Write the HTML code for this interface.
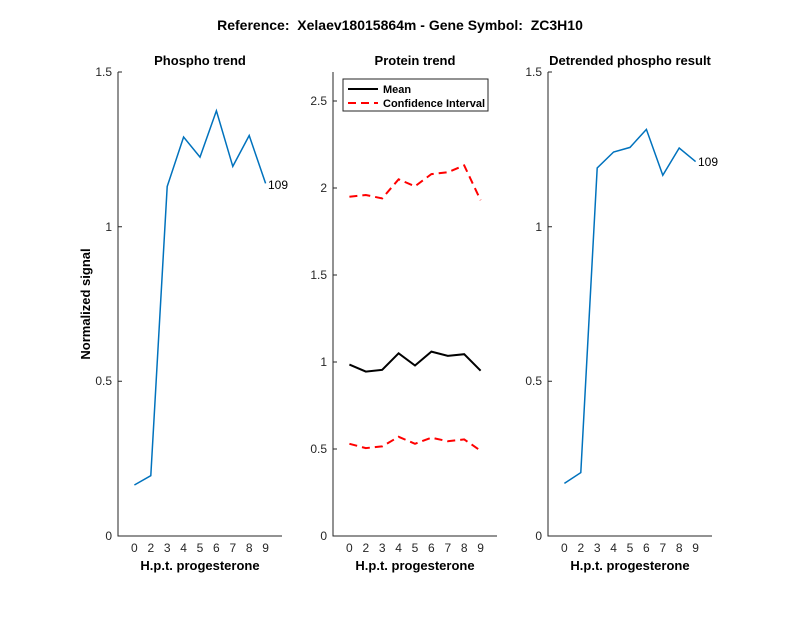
<!DOCTYPE html>
<html><head><meta charset="utf-8"><style>body{margin:0;background:#fff}svg{display:block}text{font-family:"Liberation Sans",sans-serif}</style></head><body>
<svg width="800" height="618" viewBox="0 0 800 618" xmlns="http://www.w3.org/2000/svg">
<rect width="800" height="618" fill="#fff"/>
<text x="400" y="30" text-anchor="middle" font-size="14" font-weight="bold" style="white-space:pre" xml:space="preserve">Reference:  Xelaev18015864m - Gene Symbol:  ZC3H10</text>
<g font-size="12" fill="#262626" stroke="none">
<text x="200" y="65" text-anchor="middle" font-size="13" font-weight="bold" fill="#000">Phospho trend</text>
<path d="M118,72V536H282" stroke="#262626" fill="none"/>
<path d="M118,536h4M118,381.3h4M118,226.7h4M118,72h4" stroke="#262626"/>
<text x="112" y="540" text-anchor="end">0</text><text x="112" y="385" text-anchor="end">0.5</text><text x="112" y="231" text-anchor="end">1</text><text x="112" y="76" text-anchor="end">1.5</text>
<text transform="translate(90,304) rotate(-90)" text-anchor="middle" font-size="13" font-weight="bold" fill="#000">Normalized signal</text>
<g text-anchor="middle"><text x="134.4" y="552">0</text><text x="150.8" y="552">2</text><text x="167.2" y="552">3</text><text x="183.6" y="552">4</text><text x="200" y="552">5</text><text x="216.4" y="552">6</text><text x="232.8" y="552">7</text><text x="249.2" y="552">8</text><text x="265.6" y="552">9</text></g>
<text x="200" y="570" text-anchor="middle" font-size="13" font-weight="bold" fill="#000">H.p.t. progesterone</text>
<polyline fill="none" stroke="#0072BD" stroke-width="1.5" points="134.4,485 150.8,475.7 167.2,186.5 183.6,137 200,157.1 216.4,110.8 232.8,166.4 249.2,135.5 265.6,183.4"/>
<text x="268" y="189" fill="#000">109</text>
<text x="415" y="65" text-anchor="middle" font-size="13" font-weight="bold" fill="#000">Protein trend</text>
<path d="M333,72V536H497" stroke="#262626" fill="none"/>
<path d="M333,536h4M333,449h4M333,362h4M333,275h4M333,188h4M333,101h4" stroke="#262626"/>
<text x="327" y="540" text-anchor="end">0</text><text x="327" y="453" text-anchor="end">0.5</text><text x="327" y="366" text-anchor="end">1</text><text x="327" y="279" text-anchor="end">1.5</text><text x="327" y="192" text-anchor="end">2</text><text x="327" y="105" text-anchor="end">2.5</text>
<g text-anchor="middle"><text x="349.4" y="552">0</text><text x="365.8" y="552">2</text><text x="382.2" y="552">3</text><text x="398.6" y="552">4</text><text x="415" y="552">5</text><text x="431.4" y="552">6</text><text x="447.8" y="552">7</text><text x="464.2" y="552">8</text><text x="480.6" y="552">9</text></g>
<text x="415" y="570" text-anchor="middle" font-size="13" font-weight="bold" fill="#000">H.p.t. progesterone</text>
<polyline fill="none" stroke="#000" stroke-width="2" points="349.4,364.6 365.8,371.6 382.2,369.8 398.6,353.3 415,365.5 431.4,351.6 447.8,355.9 464.2,354.2 480.6,370.7"/>
<polyline fill="none" stroke="#f00" stroke-width="2" stroke-dasharray="8,5" points="349.4,196.7 365.8,195 382.2,198.4 398.6,179.3 415,186.3 431.4,174.1 447.8,172.3 464.2,165.4 480.6,200.2"/>
<polyline fill="none" stroke="#f00" stroke-width="2" stroke-dasharray="8,5" points="349.4,443.8 365.8,448.1 382.2,446.4 398.6,436.8 415,443.8 431.4,437.7 447.8,441.2 464.2,439.4 480.6,450.7"/>
<rect x="343" y="79" width="145" height="32" fill="#fff" stroke="#262626"/>
<line x1="348" y1="89" x2="378" y2="89" stroke="#000" stroke-width="2"/>
<line x1="348" y1="103" x2="378" y2="103" stroke="#f00" stroke-width="2" stroke-dasharray="8,5"/>
<text x="383" y="93" font-size="11" font-weight="bold" fill="#000">Mean</text>
<text x="383" y="107" font-size="11" font-weight="bold" fill="#000">Confidence Interval</text>
<text x="630" y="65" text-anchor="middle" font-size="13" font-weight="bold" fill="#000">Detrended phospho result</text>
<path d="M548,72V536H712" stroke="#262626" fill="none"/>
<path d="M548,536h4M548,381.3h4M548,226.7h4M548,72h4" stroke="#262626"/>
<text x="542" y="540" text-anchor="end">0</text><text x="542" y="385" text-anchor="end">0.5</text><text x="542" y="231" text-anchor="end">1</text><text x="542" y="76" text-anchor="end">1.5</text>
<g text-anchor="middle"><text x="564.4" y="552">0</text><text x="580.8" y="552">2</text><text x="597.2" y="552">3</text><text x="613.6" y="552">4</text><text x="630" y="552">5</text><text x="646.4" y="552">6</text><text x="662.8" y="552">7</text><text x="679.2" y="552">8</text><text x="695.6" y="552">9</text></g>
<text x="630" y="570" text-anchor="middle" font-size="13" font-weight="bold" fill="#000">H.p.t. progesterone</text>
<polyline fill="none" stroke="#0072BD" stroke-width="1.5" points="564.4,483.4 580.8,472.6 597.2,168 613.6,152 630,147.4 646.4,129.4 662.8,175.3 679.2,148 695.6,161.6"/>
<text x="698" y="166" fill="#000">109</text>
</g>
</svg>
</body></html>
